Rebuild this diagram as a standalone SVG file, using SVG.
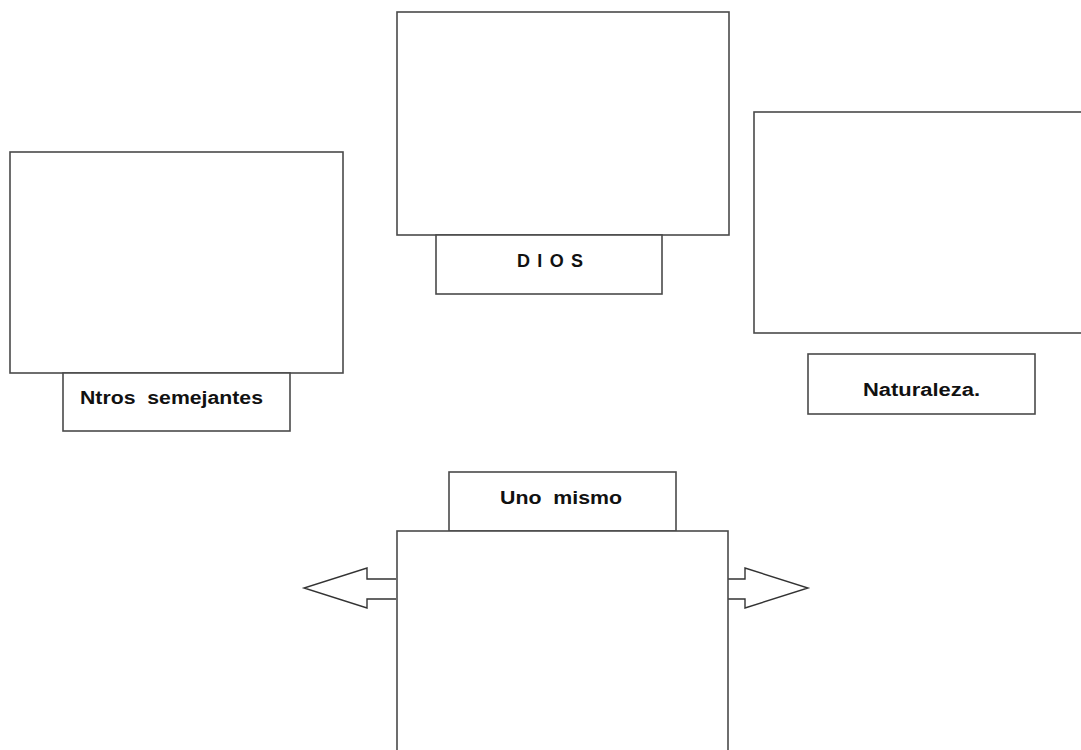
<svg xmlns="http://www.w3.org/2000/svg" width="1081" height="750" viewBox="0 0 1081 750">
<style>
.box{fill:#fff;stroke:#4a4a4a;stroke-width:1.6}
.arrow{fill:#fff;stroke:#333;stroke-width:1.4;stroke-linejoin:miter}
.lbl{font-family:"Liberation Sans",Arial,sans-serif;font-weight:bold;font-size:18px;fill:#111;white-space:pre}
</style>
<rect width="1081" height="750" fill="#fff"/>
<g id="connectors">
<polyline class="arrow" points="396,579 367,579 367,568 304,588 367,608 367,599 396,599"/>
<polyline class="arrow" points="728,579 745,579 745,568 808,588 745,608 745,599 728,599"/>
</g>
<g id="node-dios">
<rect class="box" x="397" y="12" width="332" height="223"/>
<rect class="box" x="436" y="235" width="226" height="59"/>
<text class="lbl" x="517" y="267" textLength="66" lengthAdjust="spacing">DIOS</text>
</g>
<g id="node-semejantes">
<rect class="box" x="10" y="152" width="333" height="221"/>
<rect class="box" x="63" y="373" width="227" height="58"/>
<text class="lbl" x="80" y="404" xml:space="preserve" textLength="183" lengthAdjust="spacingAndGlyphs">Ntros  semejantes</text>
</g>
<g id="node-naturaleza">
<rect class="box" x="754" y="112" width="340" height="221"/>
<rect class="box" x="808" y="354" width="227" height="60"/>
<text class="lbl" x="863" y="396" textLength="117" lengthAdjust="spacingAndGlyphs">Naturaleza.</text>
</g>
<g id="node-uno-mismo">
<rect class="box" x="449" y="472" width="227" height="59"/>
<text class="lbl" x="500" y="504" xml:space="preserve" textLength="122" lengthAdjust="spacingAndGlyphs">Uno  mismo</text>
<rect class="box" x="397" y="531" width="331" height="240"/>
</g>
</svg>
